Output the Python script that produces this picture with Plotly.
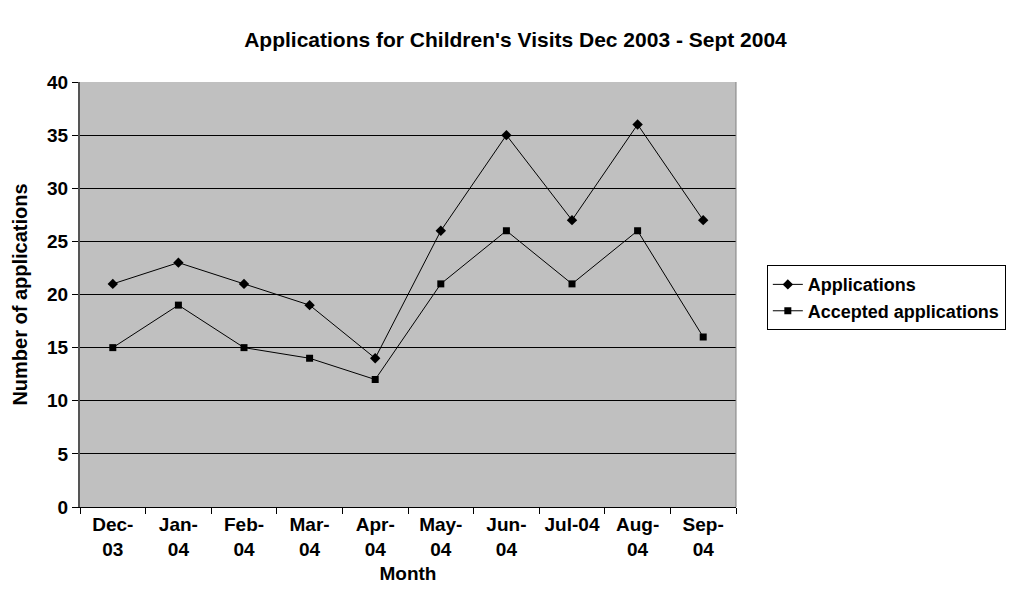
import plotly.graph_objects as go

months = ["Dec-03", "Jan-04", "Feb-04", "Mar-04", "Apr-04", "May-04", "Jun-04", "Jul-04", "Aug-04", "Sep-04"]
tick_labels = ["Dec-<br>03", "Jan-<br>04", "Feb-<br>04", "Mar-<br>04", "Apr-<br>04", "May-<br>04", "Jun-<br>04", "Jul-04<br> ", "Aug-<br>04", "Sep-<br>04"]
applications = [21, 23, 21, 19, 14, 26, 35, 27, 36, 27]
accepted = [15, 19, 15, 14, 12, 21, 26, 21, 26, 16]

FONT = "Liberation Sans, Arial, sans-serif"

fig = go.Figure()
fig.add_trace(go.Scatter(x=months, y=applications, name="Applications", mode="lines+markers",
                         line=dict(color="black", width=1),
                         marker=dict(symbol="diamond", size=8, color="black")))
fig.add_trace(go.Scatter(x=months, y=accepted, name="Accepted applications", mode="lines+markers",
                         line=dict(color="black", width=1),
                         marker=dict(symbol="square", size=7, color="black")))

fig.update_layout(
    width=1015, height=599,
    margin=dict(l=72, r=287, t=74, b=100, autoexpand=False),
    paper_bgcolor="white", plot_bgcolor="#C0C0C0",
    font=dict(family=FONT, size=19, color="black"),
    title=dict(text="<b>Applications for Children's Visits Dec 2003 - Sept 2004</b>",
               x=0.5, xanchor="center", xref="container", y=0.947, yanchor="middle", yref="container",
               font=dict(family=FONT, size=21, color="black")),
    showlegend=True,
    legend=dict(x=1.047, y=0.569, xanchor="left", yanchor="top",
                bordercolor="black", borderwidth=1, bgcolor="white",
                font=dict(family=FONT, size=18, color="black", weight="bold"),
                tracegroupgap=0, itemwidth=30),
    xaxis=dict(type="category", tickmode="array", tickvals=months, ticktext=tick_labels,
               tickson="boundaries", ticks="outside", ticklen=6, tickcolor="black",
               showline=True, linecolor="black", linewidth=1, showgrid=False,
               range=[-0.5, 9.5], mirror=False, automargin=False,
               tickfont=dict(family=FONT, size=19, color="black", weight="bold"),
               title=dict(text="<b>Month</b>", font=dict(family=FONT, size=19), standoff=8)),
    yaxis=dict(range=[0, 40], dtick=5, ticks="outside", ticklen=6, tickcolor="black",
               showline=True, linecolor="#555555", linewidth=2, automargin=False,
               showgrid=True, gridcolor="black", gridwidth=1, zeroline=False,
               tickfont=dict(family=FONT, size=19, color="black", weight="bold"),
               title=dict(text="<b>Number of applications</b>", font=dict(family=FONT, size=20), standoff=14)),
)
fig.add_shape(type="line", xref="paper", yref="paper", x0=1, x1=1, y0=0, y1=1,
              line=dict(color="#808080", width=1))

fig.write_html("out.html")
